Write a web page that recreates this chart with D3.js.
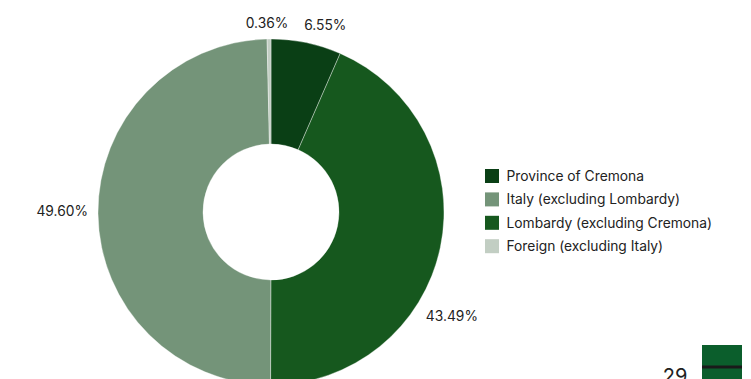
<!DOCTYPE html>
<html>
<head>
<meta charset="utf-8">
<script src="https://cdn.jsdelivr.net/npm/d3@7"></script>
<style>
  html, body { margin: 0; padding: 0; background: #fff; overflow: hidden; }
  svg { display: block; font-family: Inter, "Noto Sans", sans-serif; }
</style>
</head>
<body>
<svg id="chart" width="751" height="379"></svg>
<script>
// Origin of residents, share of total (%)
const sliceNames  = ["Province of Cremona", "Lombardy (excluding Cremona)", "Italy (excluding Lombardy)", "Foreign (excluding Italy)"];
const sliceValues = [6.55, 43.49, 49.60, 0.36];
const sliceColors = ["#0a3f15", "#16581e", "#749479", "#c2cec3"];
const legendOrder = ["Province of Cremona", "Italy (excluding Lombardy)", "Lombardy (excluding Cremona)", "Foreign (excluding Italy)"];
const pageNumber  = "29";

const svg = d3.select("#chart");
const cx = 271, cy = 212, outerR = 173, innerR = 68;
const fontSize = 13.8;

const color = d3.scaleOrdinal().domain(sliceNames).range(sliceColors);
const pie = d3.pie().sort(null).value(d => d.value);
const arcs = pie(sliceNames.map((n, i) => ({ name: n, value: sliceValues[i] })));
const arc = d3.arc().innerRadius(innerR).outerRadius(outerR);

const g = svg.append("g").attr("transform", `translate(${cx},${cy})`);
g.selectAll("path.slice").data(arcs).join("path")
  .attr("class", "slice")
  .attr("d", arc)
  .attr("fill", d => color(d.data.name))
  .attr("stroke", "#fff")
  .attr("stroke-opacity", 0.6)
  .attr("stroke-width", 0.6);

// Outside labels: text box centred beyond the rim, with small angular nudges
// so neighbouring labels stay clear of each other.
const labelNudgeDeg = { "Province of Cremona": 4.4, "Lombardy (excluding Cremona)": 18, "Italy (excluding Lombardy)": 0.9, "Foreign (excluding Italy)": -0.55 };
const fmt = v => v.toFixed(2) + "%";
const labels = g.selectAll("text.lbl").data(arcs).join("text")
  .attr("class", "lbl")
  .attr("font-size", fontSize)
  .attr("fill", "#222")
  .attr("text-anchor", "middle")
  .attr("dominant-baseline", "central")
  .text(d => fmt(d.data.value));

labels.each(function(d) {
  const w = this.getComputedTextLength(), h = 12, gap = 10;
  const a = (d.startAngle + d.endAngle) / 2 + (labelNudgeDeg[d.data.name] || 0) * Math.PI / 180;
  const s = Math.sin(a), c = Math.cos(a);
  const r = outerR + gap + (w / 2) * Math.abs(s) + (h / 2) * Math.abs(c);
  d3.select(this).attr("x", r * s).attr("y", -r * c);
});

// Legend
const legend = svg.append("g").attr("transform", "translate(485,169)");
const rows = legend.selectAll("g").data(legendOrder).join("g")
  .attr("transform", (d, i) => `translate(0,${i * 23.4})`);
rows.append("rect").attr("width", 14).attr("height", 14).attr("fill", d => color(d));
rows.append("text").attr("x", 21.5).attr("y", 7).attr("dominant-baseline", "central")
  .attr("font-size", fontSize).attr("fill", "#222").text(d => d);

// Page marker at the lower right
svg.append("text").attr("x", 675).attr("y", 383).attr("text-anchor", "middle")
  .attr("font-size", 20).attr("fill", "#222").text(pageNumber);
svg.append("rect").attr("x", 702).attr("y", 345).attr("width", 40).attr("height", 34).attr("fill", "#0b5e2c");
svg.append("rect").attr("x", 702).attr("y", 365.5).attr("width", 40).attr("height", 3).attr("fill", "#1a1a1a");
</script>
</body>
</html>
